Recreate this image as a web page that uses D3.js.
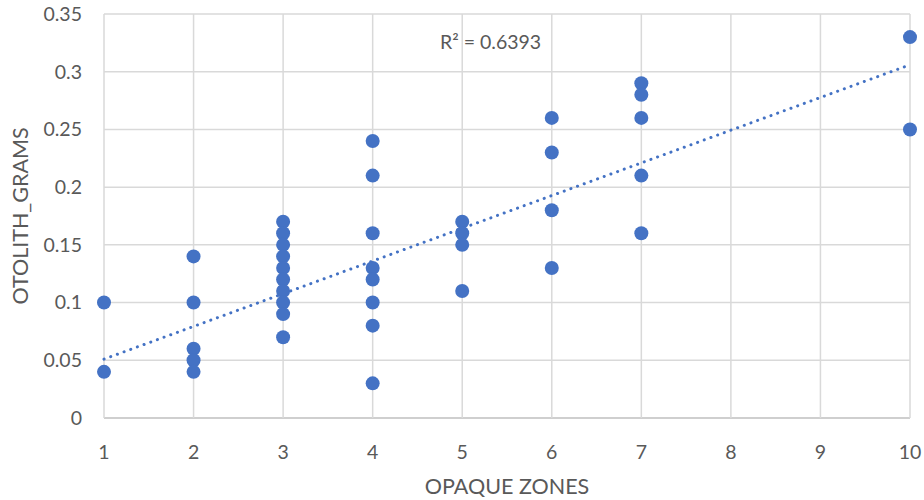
<!DOCTYPE html>
<html><head><meta charset="utf-8">
<script src="https://cdn.jsdelivr.net/npm/d3@7"></script>
<style>body{margin:0;background:#fff}svg{display:block}</style>
</head><body>
<script>
const zones = [1,1, 2,2,2,2,2, 3,3,3,3,3,3,3,3,3,3, 4,4,4,4,4,4,4,4, 5,5,5,5, 6,6,6,6, 7,7,7,7,7, 10,10];
const grams = [0.10,0.04, 0.14,0.10,0.06,0.05,0.04, 0.17,0.16,0.15,0.14,0.13,0.12,0.11,0.10,0.09,0.07,
  0.24,0.21,0.16,0.13,0.12,0.10,0.08,0.03, 0.17,0.16,0.15,0.11, 0.26,0.23,0.18,0.13, 0.29,0.28,0.26,0.21,0.16, 0.33,0.25];
const trendX = [1, 10];
const trendY = [0.051, 0.306];
const xTicks = [1,2,3,4,5,6,7,8,9,10];
const yTicks = [0,0.05,0.1,0.15,0.2,0.25,0.3,0.35];
const rSquaredLabel = "R² = 0.6393";

const W = 924, H = 500;
const m = {l:104, r:14, t:14, b:82};
const svg = d3.select("body").append("svg").attr("width", W).attr("height", H);
const x = d3.scaleLinear().domain([1,10]).range([m.l, W - m.r]);
const y = d3.scaleLinear().domain([0,0.35]).range([H - m.b, m.t]);
const font = "Lato, 'Open Sans', sans-serif";
const txt = "#595959";

// gridlines
svg.append("g").selectAll("line").data(yTicks).join("line")
  .attr("x1", x(1)).attr("x2", x(10)).attr("y1", d => y(d)).attr("y2", d => y(d))
  .attr("stroke", d => d === 0 ? "#bfbfbf" : "#d9d9d9").attr("stroke-width", 1.5);
svg.append("g").selectAll("line").data(xTicks).join("line")
  .attr("y1", y(0)).attr("y2", y(0.35)).attr("x1", d => x(d)).attr("x2", d => x(d))
  .attr("stroke", "#d9d9d9").attr("stroke-width", 1.5);

// tick labels
svg.append("g").selectAll("text").data(yTicks).join("text")
  .attr("x", 82).attr("y", d => y(d)).attr("dy", "0.35em").attr("text-anchor", "end")
  .attr("font-family", font).attr("font-size", 19.5).attr("fill", txt)
  .text(d => d3.format("")(d));
svg.append("g").selectAll("text").data(xTicks).join("text")
  .attr("x", d => x(d)).attr("y", 452).attr("dy", "0.35em").attr("text-anchor", "middle")
  .attr("font-family", font).attr("font-size", 19.5).attr("fill", txt)
  .text(d => d);

// axis titles
svg.append("text").attr("x", (x(1)+x(10))/2).attr("y", 486).attr("dy", "0.35em")
  .attr("text-anchor", "middle").attr("font-family", font).attr("font-size", 21.5).attr("fill", txt)
  .text("OPAQUE ZONES");
svg.append("text").attr("transform", `translate(20,${(y(0)+y(0.35))/2}) rotate(-90)`)
  .attr("dy", "0.35em").attr("text-anchor", "middle").attr("font-family", font)
  .attr("font-size", 21.5).attr("fill", txt).text("OTOLITH_GRAMS");

// trendline
svg.append("line").attr("x1", x(trendX[0])).attr("y1", y(trendY[0]))
  .attr("x2", x(trendX[1])).attr("y2", y(trendY[1]))
  .attr("stroke", "#4472C4").attr("stroke-width", 3).attr("stroke-linecap", "round")
  .attr("stroke-dasharray", "0.1 7");

// points
svg.append("g").selectAll("circle").data(zones.map((z,i) => [z, grams[i]])).join("circle")
  .attr("cx", d => x(d[0])).attr("cy", d => y(d[1])).attr("r", 7).attr("fill", "#4472C4");

// R² label
svg.append("text").attr("x", 440).attr("y", 42).attr("dy", "0.35em")
  .attr("font-family", font).attr("font-size", 19.5).attr("fill", txt).text(rSquaredLabel);
</script>
</body></html>
